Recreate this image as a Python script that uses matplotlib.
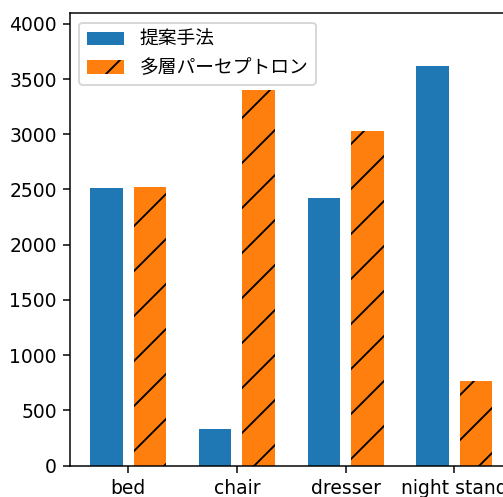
import matplotlib
matplotlib.use("Agg")
import matplotlib.pyplot as plt
import numpy as np

plt.rcParams['font.family'] = ['DejaVu Sans', 'Noto Sans CJK JP']

categories = ["bed", "chair", "dresser", "night stand"]
proposed = [2510, 335, 2420, 3615]
mlp = [2522, 3402, 3034, 764]
series_labels = ["提案手法", "多層パーセプトロン"]

DPI = 135
W, H = 503, 497
fig = plt.figure(figsize=(W / DPI, H / DPI), dpi=DPI)
ax = fig.add_axes([70 / W, 1 - 465.5 / H, 442.6 / W, (465.5 - 13.3) / H])

x = np.arange(len(categories))
w = 0.3
ax.bar(x - 0.2, proposed, width=w, color="#1f77b4", label=series_labels[0])
ax.bar(x + 0.2, mlp, width=w, color="#ff7f0e", hatch="/", label=series_labels[1])
ax.set_xticks(x)
ax.set_xticklabels(categories)
ax.set_ylim(0, 4096)
ax.legend(loc="upper left")

fig.savefig("out.png", dpi=DPI)
